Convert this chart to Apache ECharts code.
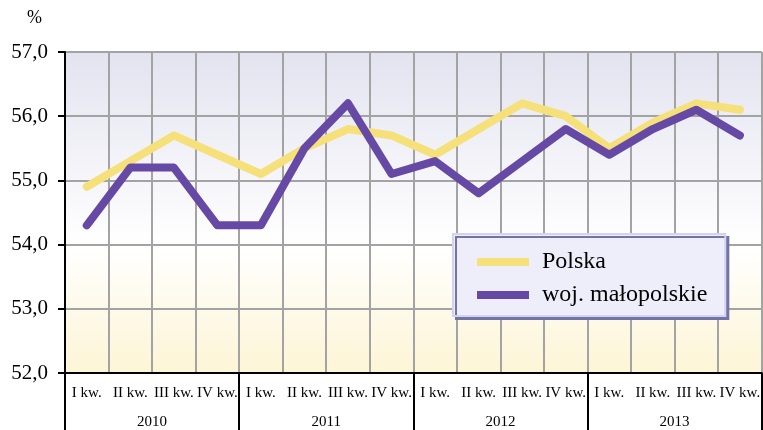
<!DOCTYPE html>
<html>
<head>
<meta charset="utf-8">
<script src="https://cdn.jsdelivr.net/npm/echarts@6/dist/echarts.min.js"></script>
<style>
html, body { margin: 0; padding: 0; background: #fff; }
#chart { width: 763px; height: 430px; }
</style>
</head>
<body>
<div id="chart"></div>
<script>
var quarters = ['I kw.', 'II kw.', 'III kw.', 'IV kw.',
	'I kw.', 'II kw.', 'III kw.', 'IV kw.',
	'I kw.', 'II kw.', 'III kw.', 'IV kw.',
	'I kw.', 'II kw.', 'III kw.', 'IV kw.'];
var years = ['2010', '2011', '2012', '2013'];
var polska = [54.9, 55.3, 55.7, 55.4, 55.1, 55.5, 55.8, 55.7, 55.4, 55.8, 56.2, 56.0, 55.5, 55.9, 56.2, 56.1];
var malopolskie = [54.3, 55.2, 55.2, 54.3, 54.3, 55.5, 56.2, 55.1, 55.3, 54.8, 55.3, 55.8, 55.4, 55.8, 56.1, 55.7];

var serif = '"Liberation Serif", "Times New Roman", serif';
var myChart = echarts.init(document.getElementById('chart'));

var option = {
	animation: false,
	textStyle: { fontFamily: serif },
	graphic: [{
		type: 'text', left: 27, top: 9,
		style: { text: '%', font: '18px ' + serif, fill: '#000' }
	}],
	grid: {
		left: 65, top: 52, bottom: 57, right: -6,
		show: true, borderWidth: 0,
		backgroundColor: new echarts.graphic.LinearGradient(0, 0, 0, 1, [
			{ offset: 0, color: '#E3E3F0' },
			{ offset: 0.6, color: '#FFFFFF' },
			{ offset: 1, color: '#FDF5D6' }
		])
	},
	legend: {
		orient: 'vertical',
		left: 453, top: 234,
		padding: [16, 18, 9, 24],
		itemGap: 9,
		itemWidth: 52, itemHeight: 8,
		icon: 'rect',
		backgroundColor: '#EEEEFB',
		borderColor: '#D2D2F6', borderWidth: 2,
		shadowColor: '#7373A6', shadowBlur: 0, shadowOffsetX: 3, shadowOffsetY: 3,
		textStyle: { fontFamily: serif, fontSize: 24, color: '#000', lineHeight: 24, padding: [0, 0, 0, 8] },
		data: ['Polska', 'woj. małopolskie']
	},
	xAxis: [{
		type: 'category',
		data: quarters,
		boundaryGap: true,
		axisLine: { show: true, lineStyle: { color: '#000', width: 2 } },
		axisTick: {
			show: true, length: 57,
			interval: function (index) { return index % 4 === 0; },
			lineStyle: { color: '#000', width: 2 }
		},
		axisLabel: { interval: 0, margin: 13, fontFamily: serif, fontSize: 15, color: '#000' },
		splitLine: { show: true, interval: 0, lineStyle: { color: '#A3A3A3', width: 2 } }
	}, {
		type: 'category',
		data: years,
		position: 'bottom',
		boundaryGap: true,
		axisLine: { show: false },
		axisTick: { show: false },
		splitLine: { show: false },
		axisLabel: { interval: 0, margin: 42, fontFamily: serif, fontSize: 15, color: '#000' }
	}],
	yAxis: {
		type: 'value',
		min: 52, max: 57, interval: 1,
		axisLine: { show: true, lineStyle: { color: '#000', width: 2 } },
		axisTick: { show: true, length: 7, lineStyle: { color: '#000', width: 2 } },
		axisLabel: {
			margin: 17, fontFamily: serif, fontSize: 21, color: '#000',
			formatter: function (v) { return v.toFixed(1).replace('.', ','); }
		},
		splitLine: { show: true, lineStyle: { color: '#A3A3A3', width: 2 } }
	},
	series: [{
		name: 'Polska',
		type: 'line',
		data: polska,
		symbol: 'none',
		color: '#F5E07A',
		lineStyle: { width: 8, color: '#F5E07A', cap: 'round', join: 'round' }
	}, {
		name: 'woj. małopolskie',
		type: 'line',
		data: malopolskie,
		symbol: 'none',
		color: '#6549A5',
		lineStyle: { width: 8, color: '#6549A5', cap: 'round', join: 'round' }
	}]
};
myChart.setOption(option);
</script>
</body>
</html>
